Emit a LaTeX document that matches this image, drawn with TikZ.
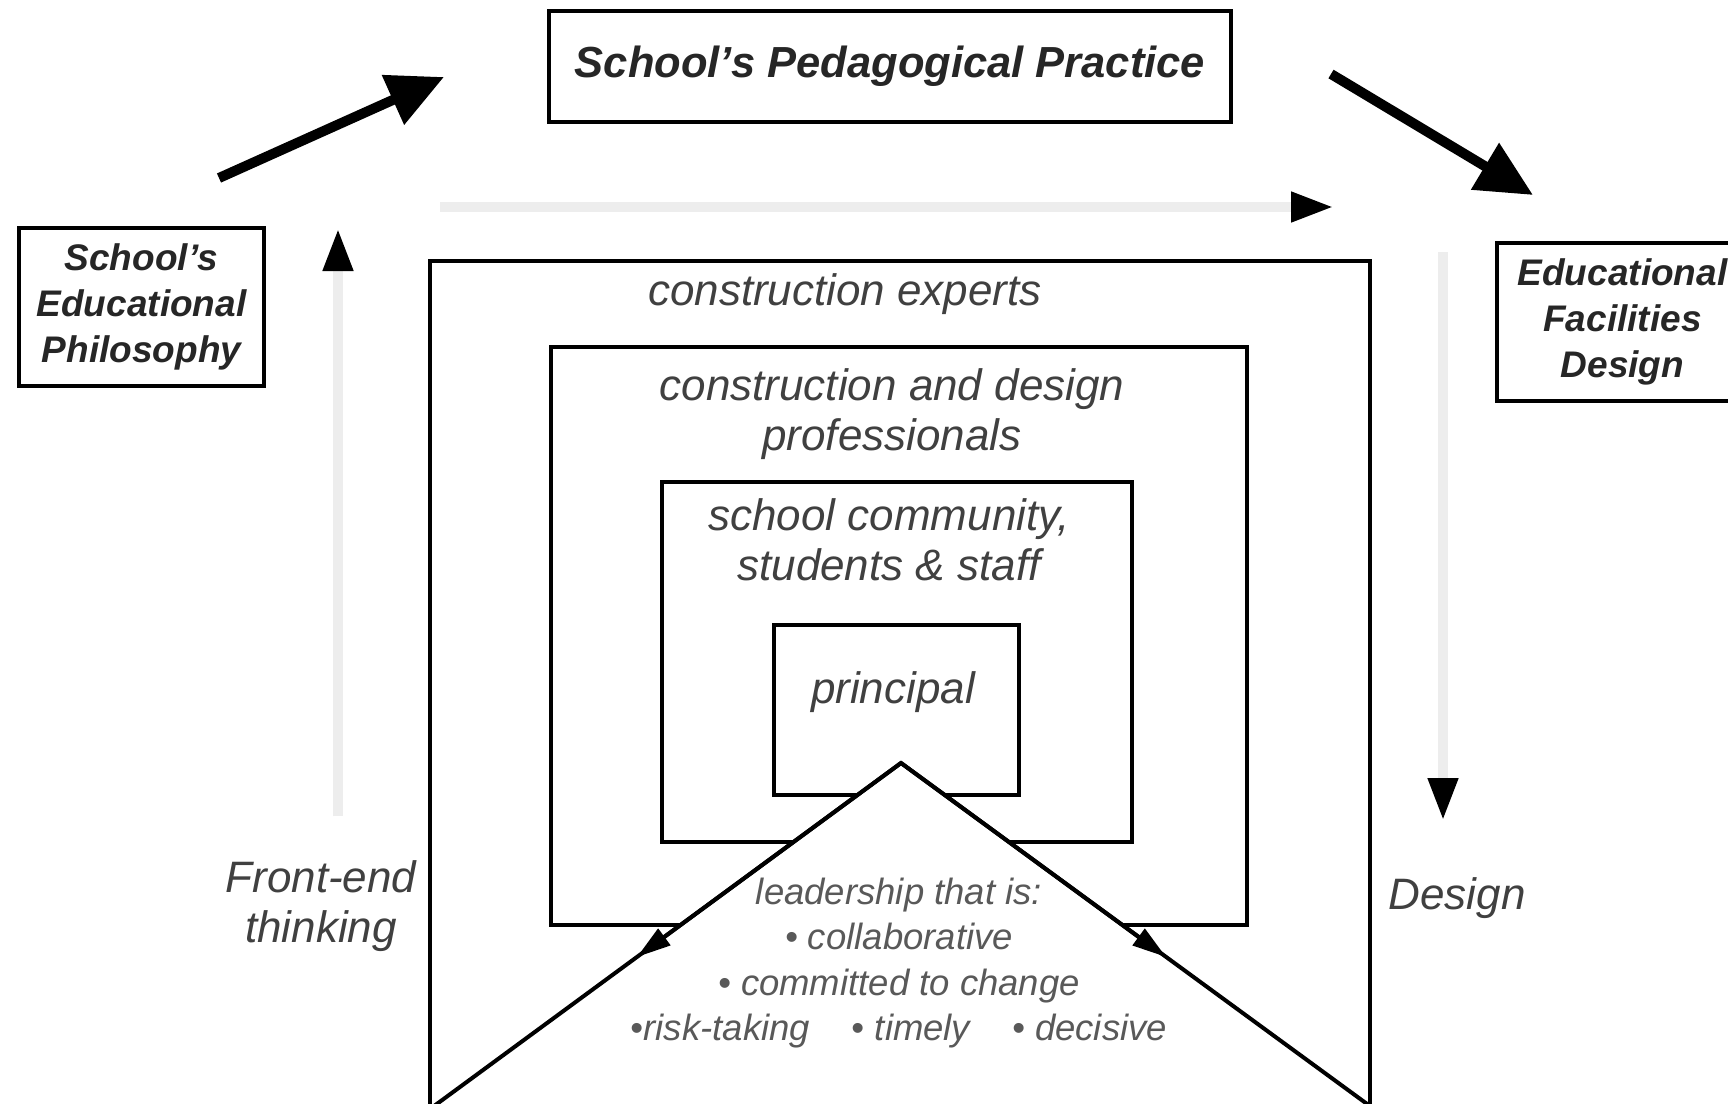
\documentclass[tikz,border=0pt]{standalone}
\usepackage{fontspec}
\setmainfont{Liberation Sans}
\usetikzlibrary{arrows.meta}
\begin{document}
\begin{tikzpicture}[x=1pt,y=-1pt,
  topbox/.style={draw, line width=4pt, inner sep=0pt},
  nestbox/.style={draw, line width=3.5pt, inner sep=0pt, anchor=north west},
  boldlab/.style={font=\fontsize{37}{46}\selectfont\bfseries\itshape, text=black!85, align=center},
  lab/.style={font=\fontsize{44}{50}\selectfont\itshape, text=black!75, align=center},
  trilab/.style={font=\fontsize{36.5}{45.3}\selectfont\itshape, text=black!65, align=center},
  bigarrow/.style={line width=10pt, -{Triangle[length=56pt,width=52pt]}},
  grayarrow/.style={line width=10pt, draw=black!7, -{Triangle[length=43pt,width=28pt,black]}},
  edgearrow/.style={line width=4pt, -{Triangle[length=34pt,width=20pt]}}
]
\useasboundingbox (0,0) rectangle (1728,1103);
\clip (0,0) rectangle (1728,1103);
\fill[white] (0,0) rectangle (1728,1103);

% top boxes
\node[topbox, minimum width=682pt, minimum height=111pt,
      font=\fontsize{43.5}{50}\selectfont\bfseries\itshape, text=black!85] (ped) at (890,66) {School's Pedagogical Practice};
\node[topbox, boldlab, minimum width=245pt, minimum height=158pt] (phil) at (141.5,307) {School's\\Educational\\Philosophy};
\node[topbox, boldlab, minimum width=251pt, minimum height=158pt] (efd) at (1622.5,322) {Educational\\Facilities\\Design};

% big arrows
\coordinate (a1s) at (219,178); \coordinate (a1e) at (444,77);
\coordinate (a2s) at (1331,74); \coordinate (a2e) at (1533,195);
\draw[bigarrow] (a1s) -- (a1e);
\draw[bigarrow] (a2s) -- (a2e);

% gray arrows
\coordinate (hs) at (440,207); \coordinate (he) at (1334,207);
\coordinate (ls) at (338,816); \coordinate (le) at (338,228);
\coordinate (rs) at (1443,252); \coordinate (re) at (1443,821);
\draw[grayarrow] (hs) -- (he);
\draw[grayarrow] (ls) -- (le);
\draw[grayarrow] (rs) -- (re);

\node[lab] (front) at (321,906) {Front-end\\thinking};
\node[lab] (design) at (1457,898) {Design};

% nested boxes
\node[nestbox, minimum width=940pt, minimum height=900pt] (outer) at (428,259) {};
\node[nestbox, minimum width=696pt, minimum height=578pt] (b2) at (549,345) {};
\node[nestbox, minimum width=470pt, minimum height=360pt] (b3) at (660,480) {};
\node[nestbox, minimum width=245pt, minimum height=170pt] (b4) at (772,623) {};

\node[lab] (l1) at (845,294) {construction experts};
\node[lab] (l2) at (892,414) {construction and design\\professionals};
\node[lab] (l3) at (889,540) {school community,\\students \& staff};
\node[lab] (l4) at (893,692) {principal};

% leadership triangle
\coordinate (apex) at (901,763);
\coordinate (bl) at (415,1120);
\coordinate (br) at (1389,1120);
\coordinate (tl) at (637,957);
\coordinate (tr) at (1166,957);
\draw[line width=4pt, fill=white, line join=miter] (bl) -- (apex) -- (br);
\draw[edgearrow] (apex) -- (tl);
\draw[edgearrow] (apex) -- (tr);

\node[trilab] (lead) at (899,963) {leadership that is:\\
\textbullet{} collaborative\\
\textbullet{} committed to change\\
\textbullet risk-taking\hspace{42pt}\textbullet{} timely\hspace{42pt}\textbullet{} decisive};
\end{tikzpicture}
\end{document}
